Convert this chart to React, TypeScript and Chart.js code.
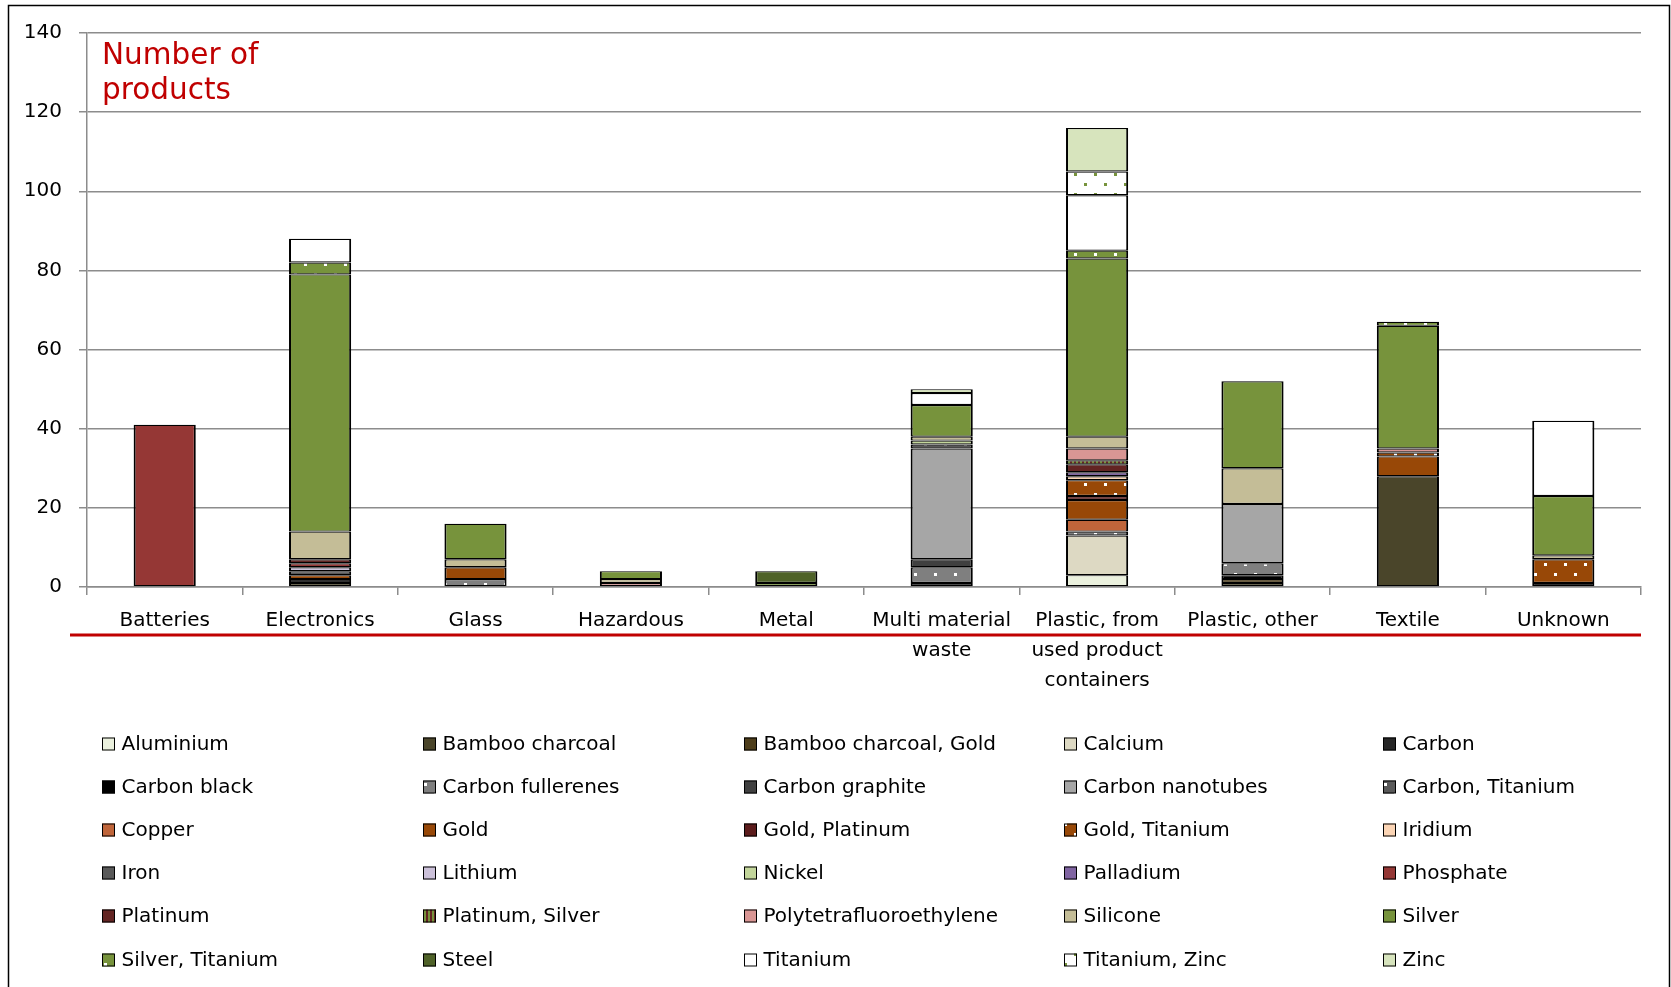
import React, { useEffect, useRef } from "react";
import { Chart, registerables } from "chart.js";

Chart.register(...registerables);

const categories: (string | string[])[] = [
  "Batteries",
  "Electronics",
  "Glass",
  "Hazardous",
  "Metal",
  ["Multi material", "waste"],
  ["Plastic, from", "used product", "containers"],
  "Plastic, other",
  "Textile",
  "Unknown",
];

const yTicks = [0, 20, 40, 60, 80, 100, 120, 140];

// values per category (Batteries ... Unknown)
const aluminium = [0, 0, 0, 0, 0, 0, 3, 0, 0, 0];
const bambooCharcoal = [0, 1, 0, 0, 0, 0, 0, 1, 28, 0];
const bambooCharcoalGold = [0, 0, 0, 0, 0, 0, 0, 1, 0, 0];
const calcium = [0, 0, 0, 0, 0, 0, 10, 0, 0, 0];
const carbon = [0, 0, 0, 0, 0, 1, 0, 0, 0, 0];
const carbonBlack = [0, 1, 0, 0, 0, 0, 0, 1, 0, 1];
const carbonFullerenes = [0, 0, 2, 0, 0, 4, 1, 3, 0, 0];
const carbonGraphite = [0, 0, 0, 0, 0, 2, 0, 0, 0, 0];
const carbonNanotubes = [0, 0, 0, 0, 0, 28, 0, 15, 0, 0];
const carbonTitanium = [0, 0, 0, 0, 0, 1, 0, 0, 0, 0];
const copper = [0, 0, 0, 0, 0, 0, 3, 0, 0, 0];
const gold = [0, 1, 3, 0, 0, 0, 5, 0, 5, 0];
const goldPlatinum = [0, 0, 0, 0, 0, 0, 1, 0, 0, 0];
const goldTitanium = [0, 0, 0, 0, 0, 0, 4, 0, 1, 6];
const iridium = [0, 0, 0, 0, 0, 0, 1, 0, 0, 0];
const iron = [0, 1, 0, 0, 0, 0, 0, 0, 0, 0];
const lithium = [0, 1, 0, 0, 0, 0, 0, 0, 0, 0];
const nickel = [0, 0, 0, 0, 0, 1, 0, 0, 0, 0];
const palladium = [0, 0, 0, 0, 0, 0, 1, 0, 0, 0];
const phosphate = [41, 1, 0, 0, 0, 0, 0, 0, 0, 0];
const platinum = [0, 1, 0, 0, 0, 0, 2, 0, 0, 0];
const platinumSilver = [0, 0, 0, 0, 0, 0, 1, 0, 0, 0];
const ptfe = [0, 0, 0, 1, 0, 0, 3, 0, 1, 0];
const silicone = [0, 7, 2, 1, 0, 1, 3, 9, 0, 1];
const silver = [0, 65, 9, 2, 1, 8, 45, 22, 31, 15];
const silverTitanium = [0, 3, 0, 0, 0, 0, 2, 0, 1, 0];
const steel = [0, 0, 0, 0, 3, 0, 0, 0, 0, 0];
const titanium = [0, 6, 0, 0, 0, 3, 14, 0, 0, 19];
const titaniumZinc = [0, 0, 0, 0, 0, 0, 6, 0, 0, 0];
const zinc = [0, 0, 0, 0, 0, 1, 11, 0, 0, 0];

type Fill = { name: string; data: number[]; color: string; pattern?: "dots" | "stripes"; dot?: string; stripe?: string };

const series: Fill[] = [
  { name: "Aluminium", data: aluminium, color: "#ebf1de" },
  { name: "Bamboo charcoal", data: bambooCharcoal, color: "#4a452a" },
  { name: "Bamboo charcoal, Gold", data: bambooCharcoalGold, color: "#4d3d1a" },
  { name: "Calcium", data: calcium, color: "#ddd9c3" },
  { name: "Carbon", data: carbon, color: "#262626" },
  { name: "Carbon black", data: carbonBlack, color: "#000000" },
  { name: "Carbon fullerenes", data: carbonFullerenes, color: "#7f7f7f", pattern: "dots", dot: "#ffffff" },
  { name: "Carbon graphite", data: carbonGraphite, color: "#404040" },
  { name: "Carbon nanotubes", data: carbonNanotubes, color: "#a6a6a6" },
  { name: "Carbon, Titanium", data: carbonTitanium, color: "#595959", pattern: "dots", dot: "#ffffff" },
  { name: "Copper", data: copper, color: "#c0653a" },
  { name: "Gold", data: gold, color: "#984807" },
  { name: "Gold, Platinum", data: goldPlatinum, color: "#5c1c1c" },
  { name: "Gold, Titanium", data: goldTitanium, color: "#984807", pattern: "dots", dot: "#ffffff" },
  { name: "Iridium", data: iridium, color: "#fcd5b5" },
  { name: "Iron", data: iron, color: "#595959" },
  { name: "Lithium", data: lithium, color: "#ccc1da" },
  { name: "Nickel", data: nickel, color: "#c3d69b" },
  { name: "Palladium", data: palladium, color: "#8064a2" },
  { name: "Phosphate", data: phosphate, color: "#953735" },
  { name: "Platinum", data: platinum, color: "#632523" },
  { name: "Platinum, Silver", data: platinumSilver, color: "#632523", pattern: "stripes", stripe: "#77933c" },
  { name: "Polytetrafluoroethylene", data: ptfe, color: "#d99694" },
  { name: "Silicone", data: silicone, color: "#c4bd97" },
  { name: "Silver", data: silver, color: "#77933c" },
  { name: "Silver, Titanium", data: silverTitanium, color: "#77933c", pattern: "dots", dot: "#ffffff" },
  { name: "Steel", data: steel, color: "#4f6228" },
  { name: "Titanium", data: titanium, color: "#ffffff" },
  { name: "Titanium, Zinc", data: titaniumZinc, color: "#ffffff", pattern: "dots", dot: "#77933c" },
  { name: "Zinc", data: zinc, color: "#d7e4bd" },
];

const FONT = "'DejaVu Sans', Verdana, sans-serif";

function makeFill(s: Fill): string | CanvasPattern {
  if (!s.pattern) return s.color;
  const tile = document.createElement("canvas");
  tile.width = 20;
  tile.height = 20;
  const t = tile.getContext("2d")!;
  t.fillStyle = s.color;
  t.fillRect(0, 0, 20, 20);
  if (s.pattern === "dots") {
    t.fillStyle = s.dot || "#fff";
    t.fillRect(4, 3, 3, 3);
    t.fillRect(14, 13, 3, 3);
  } else {
    t.fillStyle = s.stripe || "#77933c";
    for (let x = 0; x < 20; x += 4) t.fillRect(x, 0, 2, 20);
  }
  const p = t.createPattern(tile, "repeat");
  return p || s.color;
}

export default function App() {
  const ref = useRef<HTMLCanvasElement>(null);
  useEffect(() => {
    const canvas = ref.current!;
    const fills = series.map(makeFill);
    const datasets = series.map((s, i) => ({
      label: s.name,
      data: s.data.map((v) => (v === 0 ? null : v)),
      backgroundColor: fills[i],
      borderColor: "#000000",
      borderWidth: { top: 1.2, bottom: 1.2, left: 2, right: 2 },
      borderSkipped: false,
      barPercentage: 0.8,
      categoryPercentage: 0.5,
    }));

    const decor = {
      id: "decor",
      afterDraw(chart: any) {
        const ctx = chart.ctx as CanvasRenderingContext2D;
        ctx.save();
        // outer frame
        ctx.strokeStyle = "#000";
        ctx.lineWidth = 1.5;
        ctx.strokeRect(8.5, 5.5, 1661, 1000);
        // title
        ctx.fillStyle = "#c00000";
        ctx.font = `29.5px ${FONT}`;
        ctx.textAlign = "left";
        ctx.textBaseline = "middle";
        ctx.fillText("Number of", 102, 56);
        ctx.fillText("products", 102, 91);
        // red line under category labels
        ctx.strokeStyle = "#c00000";
        ctx.lineWidth = 3;
        ctx.beginPath();
        ctx.moveTo(70, 635);
        ctx.lineTo(1641, 635);
        ctx.stroke();
        // legend
        const colsX = [102, 423, 744, 1064, 1383];
        const rowsY = [744, 787, 830, 873, 916, 960];
        ctx.font = `20px ${FONT}`;
        ctx.textBaseline = "middle";
        series.forEach((s, i) => {
          const x = colsX[i % 5];
          const y = rowsY[Math.floor(i / 5)];
          ctx.fillStyle = fills[i] as any;
          ctx.fillRect(x, y - 6.5, 13, 13);
          ctx.strokeStyle = "#000";
          ctx.lineWidth = 1;
          ctx.strokeRect(x + 0.5, y - 6, 12, 12);
          ctx.fillStyle = "#000";
          ctx.fillText(s.name, x + 19.5, y + 1);
        });
        ctx.restore();
      },
    };

    const chart = new Chart(canvas, {
      type: "bar",
      data: { labels: categories as any, datasets: datasets as any },
      options: {
        responsive: false,
        animation: false,
        devicePixelRatio: 1,
        layout: { padding: { left: 0, top: 33, right: 30, bottom: 0 } },
        plugins: {
          legend: { display: false },
          tooltip: { enabled: false },
        },
        scales: {
          x: {
            stacked: true,
            grid: {
              offset: true,
              drawOnChartArea: false,
              drawTicks: true,
              tickLength: 8,
              color: "#8c8c8c",
              lineWidth: 1.5,
            },
            border: { color: "#8c8c8c", width: 1.5 },
            ticks: {
              color: "#000",
              font: { family: FONT, size: 20, lineHeight: 1.5 },
              padding: 11,
              maxRotation: 0,
              autoSkip: false,
            },
            afterFit: (s: any) => {
              s.height = 400;
            },
          },
          y: {
            stacked: true,
            min: 0,
            max: 140,
            afterBuildTicks: (s: any) => {
              s.ticks = yTicks.map((v) => ({ value: v }));
            },
            ticks: {
              color: "#000",
              font: { family: FONT, size: 20 },
              padding: 17,
            },
            grid: { color: "#8c8c8c", lineWidth: 1.5, tickLength: 8 },
            border: { color: "#8c8c8c", width: 1.5 },
            afterFit: (s: any) => {
              s.width = 87;
            },
          },
        },
      },
      plugins: [decor],
    });
    return () => chart.destroy();
  }, []);

  return (
    <div style={{ position: "absolute", left: 0, top: 0, width: 1671, height: 987, background: "#fff" }}>
      <canvas ref={ref} width={1671} height={987} style={{ display: "block" }} />
    </div>
  );
}
